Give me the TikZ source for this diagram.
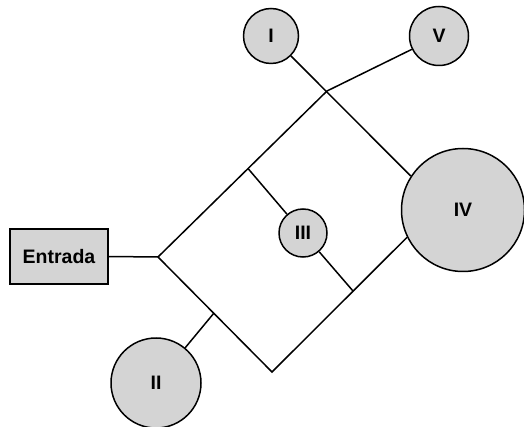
\documentclass[tikz,border=0pt]{standalone}
\usepackage{fontspec}
\setmainfont{Liberation Sans}
\begin{document}
\begin{tikzpicture}[x=1pt,y=-1pt,
  line width=1.5pt,
  lbl/.style={font=\bfseries\fontsize{19.5}{21}\selectfont},
  circ/.style={circle,draw,fill=black!17,inner sep=0pt,lbl},
  box/.style={rectangle,draw,fill=black!17,inner sep=0pt,lbl,minimum width=98pt,minimum height=55pt}]
\useasboundingbox (0,0) rectangle (524,427);
\node[box] (E) at (59,256.5) {Entrada};
\node[circ,minimum size=55pt] (I) at (271,36) {I};
\node[circ,minimum size=59pt] (V) at (439,36) {V};
\node[circ,minimum size=123pt] (IV) at (463,210) {IV};
\node[circ,minimum size=48pt] (III) at (303,233) {III};
\node[circ,minimum size=90pt] (II) at (156,383) {II};
\coordinate (S) at (158,257);
\coordinate (J) at (327,91);
\coordinate (B) at (272,372);
\coordinate (JII) at (214,313);
\coordinate (JA) at (248,168.5);
\coordinate (JB) at (353,291);
\draw (E.east) -- (S) -- (J);
\draw (J) -- (V);
\draw (I.-45) -- (IV.147);
\draw (S) -- (B) -- (IV.206);
\draw (JA) -- (III);
\draw (III) -- (JB);
\draw (JII) -- (II);
\end{tikzpicture}
\end{document}
